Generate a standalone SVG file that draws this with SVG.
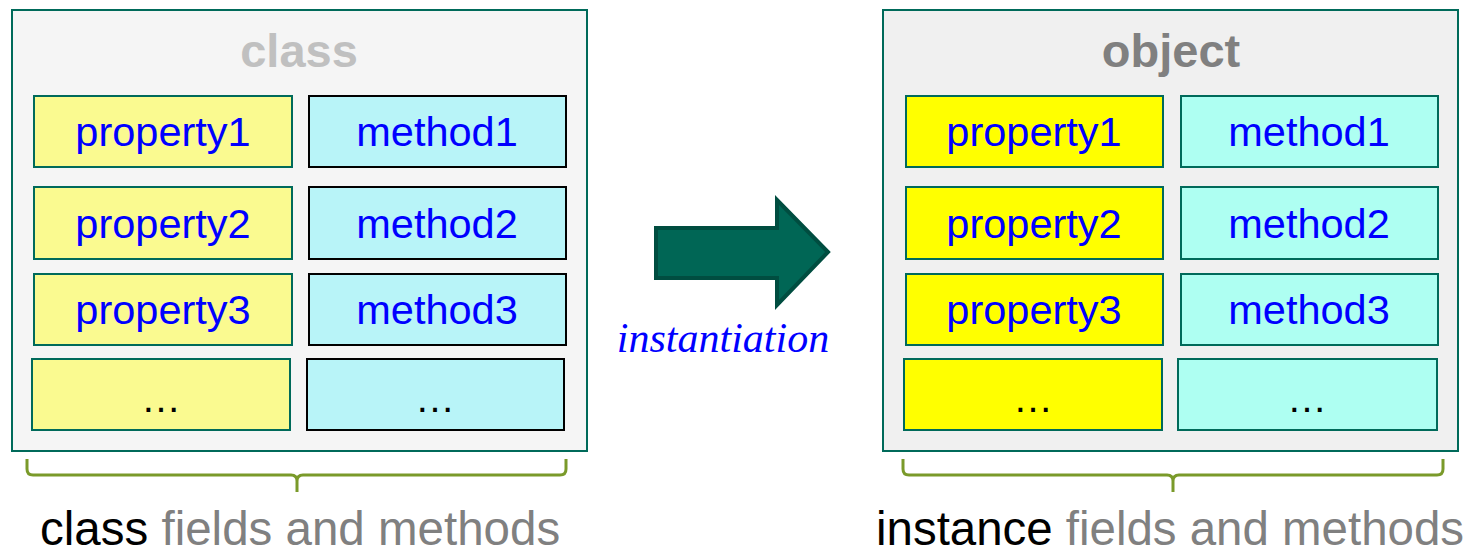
<svg xmlns="http://www.w3.org/2000/svg" width="1474" height="555" viewBox="0 0 1474 555">
<style>
.panel{stroke:#006a5a;stroke-width:2}
.box{stroke-width:2}
.lp{fill:#fafa90;stroke:#006a5a}
.lm{fill:#b8f4f8;stroke:#000}
.rp{fill:#ffff00;stroke:#006a5a}
.rm{fill:#aefff2;stroke:#006a5a}
.t{font-family:"Liberation Sans",Arial,sans-serif;font-size:41.5px;fill:#0000ff;text-anchor:middle}
.dots{font-family:"Liberation Sans",Arial,sans-serif;font-size:40px;fill:#000;text-anchor:middle}
.title{font-family:"Liberation Sans",Arial,sans-serif;font-size:47px;font-weight:bold;text-anchor:middle}
.cap{font-family:"Liberation Sans",Arial,sans-serif;font-size:47.5px;fill:#808080}
.brace{fill:none;stroke:#7a9a2a;stroke-width:3}
</style>
<g id="class-panel">
<rect class="panel" x="12" y="10" width="575" height="441" fill="#f5f5f5"/>
<text class="title" x="299" y="67" fill="#c0c0c0">class</text>
</g>
<g id="class-property1"><rect class="box lp" x="34" y="96" width="258" height="71"/><text class="t" x="163" y="146">property1</text></g>
<g id="class-method1"><rect class="box lm" x="309" y="96" width="257" height="71"/><text class="t" x="437" y="146">method1</text></g>
<g id="class-property2"><rect class="box lp" x="34" y="187" width="258" height="72"/><text class="t" x="163" y="238">property2</text></g>
<g id="class-method2"><rect class="box lm" x="309" y="187" width="257" height="72"/><text class="t" x="437" y="238">method2</text></g>
<g id="class-property3"><rect class="box lp" x="34" y="274" width="258" height="71"/><text class="t" x="163" y="324">property3</text></g>
<g id="class-method3"><rect class="box lm" x="309" y="274" width="257" height="71"/><text class="t" x="437" y="324">method3</text></g>
<g id="class-property-more"><rect class="box lp" x="32" y="359" width="258" height="71"/><text class="dots" x="161" y="412">…</text></g>
<g id="class-method-more"><rect class="box lm" x="307" y="359" width="257" height="71"/><text class="dots" x="435" y="412">…</text></g>
<g id="class-caption">
<path class="brace" d="M27,459 V469 Q27,475 33,475 H291 Q297,475 297,481 V492 M297,481 Q297,475 303,475 H560 Q566,475 566,469 V459"/>
<text class="cap" x="40" y="545"><tspan fill="#000">class</tspan> fields and methods</text>
</g>
<g id="object-panel">
<rect class="panel" x="883" y="10" width="575" height="441" fill="#f0f0f0"/>
<text class="title" x="1171" y="67" fill="#808080">object</text>
</g>
<g id="object-property1"><rect class="box rp" x="906" y="96" width="257" height="71"/><text class="t" x="1034" y="146">property1</text></g>
<g id="object-method1"><rect class="box rm" x="1181" y="96" width="257" height="71"/><text class="t" x="1309" y="146">method1</text></g>
<g id="object-property2"><rect class="box rp" x="906" y="187" width="257" height="72"/><text class="t" x="1034" y="238">property2</text></g>
<g id="object-method2"><rect class="box rm" x="1181" y="187" width="257" height="72"/><text class="t" x="1309" y="238">method2</text></g>
<g id="object-property3"><rect class="box rp" x="906" y="274" width="257" height="71"/><text class="t" x="1034" y="324">property3</text></g>
<g id="object-method3"><rect class="box rm" x="1181" y="274" width="257" height="71"/><text class="t" x="1309" y="324">method3</text></g>
<g id="object-property-more"><rect class="box rp" x="904" y="359" width="258" height="71"/><text class="dots" x="1033" y="412">…</text></g>
<g id="object-method-more"><rect class="box rm" x="1178" y="359" width="259" height="71"/><text class="dots" x="1307" y="412">…</text></g>
<g id="object-caption">
<path class="brace" d="M903,459 V469 Q903,475 909,475 H1167 Q1173,475 1173,481 V492 M1173,481 Q1173,475 1179,475 H1437 Q1443,475 1443,469 V459"/>
<text class="cap" x="876" y="545" textLength="588" lengthAdjust="spacingAndGlyphs"><tspan fill="#000">instance</tspan> fields and methods</text>
</g>
<g id="connectors">
<path d="M656,228 H777 V200 L828,252 L777,305 V278 H656 Z" fill="#006655" stroke="#004d40" stroke-width="4" stroke-linejoin="miter"/>
<text x="723" y="352" text-anchor="middle" font-family="'Liberation Serif','Times New Roman',serif" font-style="italic" font-size="42" fill="#0000ff">instantiation</text>
</g>
</svg>
